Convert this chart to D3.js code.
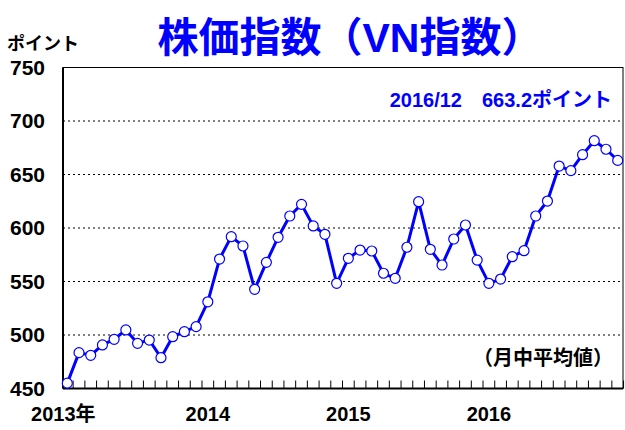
<!DOCTYPE html>
<html>
<head>
<meta charset="utf-8">
<script src="https://cdn.jsdelivr.net/npm/d3@7"></script>
<style>
body { margin: 0; background: #fff; }
text { font-family: "Liberation Sans", "Noto Sans CJK JP", sans-serif; font-weight: bold; }
</style>
</head>
<body>
<div id="chart"></div>
<script>
// monthly averages, 2013/1 .. 2016/12
var values = [
	455, 483.5, 481, 490.7, 496, 504.7, 492.2, 495.3, 478.8, 498.4, 503.1, 507.8,
	531, 571, 591.9, 583.2, 542.7, 567.9, 591.3, 611.2, 622.1, 601.9, 594.1, 548.3,
	571.7, 579.4, 578.5, 557.7, 553, 582, 624.6, 580.1, 565.4, 589.7, 602.8, 570,
	548.3, 552.3, 573.2, 578.8, 611.2, 625.2, 657.9, 653.6, 668.5, 681.6, 673.6, 663.2
];
var yearLabels = ["2013年", "2014", "2015", "2016"];
var yTicks = [450, 500, 550, 600, 650, 700, 750];

var W = 625, H = 430;
var M = {t: 67.5, r: 2, b: 41.5, l: 63};

var svg = d3.select("#chart").append("svg")
	.attr("width", W)
	.attr("height", H);

var scaleX = d3.scaleLinear()
	.domain([0, values.length - 1])
	.range([67.3, 617.7]);

var scaleY = d3.scaleLinear()
	.domain([450, 750])
	.range([H - M.b, M.t]);

// title + labels
svg.append("text")
	.attr("x", 350).attr("y", 52)
	.attr("text-anchor", "middle")
	.style("font-size", "41px")
	.style("fill", "#0000ff")
	.text("株価指数（VN指数）");

svg.append("text")
	.attr("x", 7).attr("y", 50)
	.style("font-size", "18px")
	.text("ポイント");

// grid
svg.append("g").attr("class", "grid")
	.selectAll("line").data(yTicks.slice(1, -1)).enter().append("line")
	.attr("x1", M.l).attr("x2", W - M.r)
	.attr("y1", function(d) { return scaleY(d); })
	.attr("y2", function(d) { return scaleY(d); })
	.style("stroke", "#000")
	.style("stroke-width", 1)
	.style("stroke-dasharray", "2,3");

// y axis labels
var axisY = d3.axisLeft(scaleY)
	.tickValues(yTicks)
	.tickSize(0)
	.tickPadding(18);

svg.append("g")
	.attr("transform", "translate(" + M.l + ",0)")
	.call(axisY)
	.call(function(g) { g.select(".domain").remove(); })
	.selectAll("text")
	.style("font-size", "21px")
	.style("font-family", "'Liberation Sans', sans-serif")
	.style("fill", "#000");

// frame
svg.append("rect")
	.attr("x", M.l).attr("y", M.t)
	.attr("width", W - M.r - M.l).attr("height", H - M.b - M.t)
	.style("fill", "none")
	.style("stroke", "#000")
	.style("stroke-width", 1);

svg.append("line")
	.attr("x1", M.l).attr("x2", M.l)
	.attr("y1", M.t).attr("y2", H - M.b)
	.style("stroke", "#000").style("stroke-width", 2);
svg.append("line")
	.attr("x1", M.l).attr("x2", W - M.r)
	.attr("y1", H - M.b).attr("y2", H - M.b)
	.style("stroke", "#000").style("stroke-width", 2);

// month ticks (inside, between points)
var tickIdx = d3.range(values.length).map(function(i) { return i + 0.5; });
svg.append("g").selectAll("line").data(tickIdx).enter().append("line")
	.attr("x1", function(d) { return scaleX(d); })
	.attr("x2", function(d) { return scaleX(d); })
	.attr("y1", H - M.b)
	.attr("y2", H - M.b - 8)
	.style("stroke", "#000")
	.style("stroke-width", 1);

// year labels
svg.append("g").selectAll("text").data(yearLabels).enter().append("text")
	.attr("x", function(d, i) { return scaleX(i * 12) + (i === 0 ? -4 : 0); })
	.attr("y", 421)
	.attr("text-anchor", "middle")
	.style("font-size", "20px")
	.text(function(d) { return d; });

// line
var line = d3.line()
	.x(function(d, i) { return scaleX(i); })
	.y(function(d) { return scaleY(d); });

svg.append("path")
	.datum(values)
	.attr("d", line)
	.style("fill", "none")
	.style("stroke", "#0000ff")
	.style("stroke-width", 3)
	.style("stroke-linejoin", "round");

svg.append("g").selectAll("circle").data(values).enter().append("circle")
	.attr("cx", function(d, i) { return scaleX(i); })
	.attr("cy", function(d) { return scaleY(d); })
	.attr("r", 5)
	.style("fill", "#fff")
	.style("stroke", "#0000ff")
	.style("stroke-width", 1.2);

// annotations
svg.append("text")
	.attr("x", 612).attr("y", 107)
	.attr("text-anchor", "end")
	.style("font-size", "20px")
	.style("fill", "#0000ff")
	.text("2016/12　663.2ポイント");

svg.append("text")
	.attr("x", 613).attr("y", 365)
	.attr("text-anchor", "end")
	.style("font-size", "20px")
	.text("（月中平均値）");
</script>
</body>
</html>
